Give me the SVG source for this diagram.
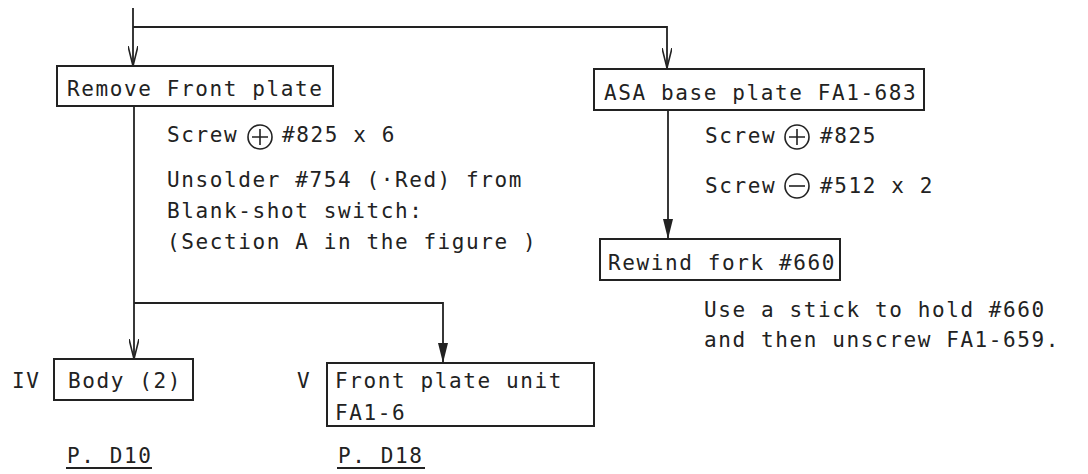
<svg xmlns="http://www.w3.org/2000/svg" width="1088" height="474" viewBox="0 0 1088 474">
<style>
text{font-family:"DejaVu Sans Mono","Liberation Mono",monospace;font-size:21px;letter-spacing:1.6px;fill:#222}
.box{fill:none;stroke:#222;stroke-width:2}
.ln{fill:none;stroke:#222;stroke-width:1.8}
.sym{fill:none;stroke:#222;stroke-width:1.6}
</style>
<defs>
<marker id="av" viewBox="0 0 20 10" refX="20" refY="5" markerWidth="20" markerHeight="10" markerUnits="userSpaceOnUse" orient="auto">
<path d="M0,0 L20,5 L0,10" fill="none" stroke="#222" stroke-width="1.6"/>
</marker>
<marker id="af" viewBox="0 0 20 10" refX="20" refY="5" markerWidth="20" markerHeight="10" markerUnits="userSpaceOnUse" orient="auto">
<path d="M0,0 L20,5 L0,10 Z" fill="#222"/>
</marker>
</defs>
<g id="connectors">
<polyline class="ln" points="133,8 133,27"/>
<polyline class="ln" points="133,27 667,27 667,68" marker-end="url(#av)"/>
<polyline class="ln" points="133,27 133,66" marker-end="url(#av)"/>
<polyline class="ln" points="134,106 134,359" marker-end="url(#av)"/>
<polyline class="ln" points="134,303 443,303 443,363" marker-end="url(#af)"/>
<polyline class="ln" points="668,110 668,239" marker-end="url(#af)"/>
</g>
<g id="remove-front-plate">
<rect class="box" x="57" y="66" width="276" height="40"/>
<text x="67" y="96">Remove Front plate</text>
</g>
<g id="notes-front-plate">
<text x="167" y="142">Screw</text>
<circle class="sym" cx="260" cy="137" r="12"/>
<path class="sym" d="M252,137 H268 M260,129 V145"/>
<text x="282" y="142">#825 x 6</text>
<text x="167" y="187">Unsolder #754 (·Red) from</text>
<text x="167" y="218">Blank-shot switch:</text>
<text x="167" y="249">(Section A in the figure )</text>
</g>
<g id="asa-base-plate">
<rect class="box" x="594" y="69" width="330" height="41"/>
<text x="604" y="100">ASA base plate FA1-683</text>
</g>
<g id="notes-asa">
<text x="705" y="143">Screw</text>
<circle class="sym" cx="797" cy="137" r="12"/>
<path class="sym" d="M789,137 H805 M797,129 V145"/>
<text x="820" y="143">#825</text>
<text x="705" y="193">Screw</text>
<circle class="sym" cx="797" cy="186" r="12"/>
<path class="sym" d="M789,186 H805"/>
<text x="820" y="193">#512 x 2</text>
</g>
<g id="rewind-fork">
<rect class="box" x="600" y="239" width="240" height="41"/>
<text x="608" y="270">Rewind fork #660</text>
</g>
<g id="notes-rewind">
<text x="704" y="317">Use a stick to hold #660</text>
<text x="704" y="347">and then unscrew FA1-659.</text>
</g>
<g id="body-2">
<text x="12" y="388">IV</text>
<rect class="box" x="54" y="359" width="139" height="41"/>
<text x="68" y="388">Body (2)</text>
<text x="67" y="463">P. D10</text>
<line class="ln" x1="66" y1="468" x2="152" y2="468"/>
</g>
<g id="front-plate-unit">
<text x="297" y="388">V</text>
<rect class="box" x="327" y="363" width="267" height="63"/>
<text x="335" y="388">Front plate unit</text>
<text x="335" y="420">FA1-6</text>
<text x="338" y="463">P. D18</text>
<line class="ln" x1="337" y1="468" x2="425" y2="468"/>
</g>
</svg>
